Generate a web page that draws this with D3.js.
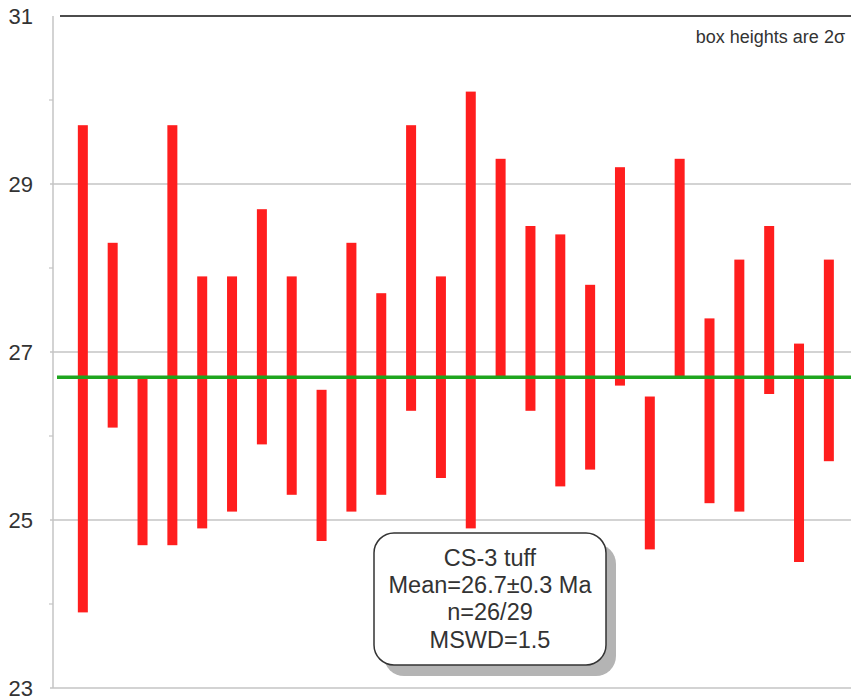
<!DOCTYPE html>
<html>
<head>
<meta charset="utf-8">
<script src="https://cdn.jsdelivr.net/npm/d3@7/dist/d3.min.js"></script>
<style>
  html, body { margin: 0; padding: 0; background: #fff; }
  svg { display: block; font-family: "Liberation Sans", Arial, sans-serif; }
</style>
</head>
<body>
<svg id="chart" width="851" height="700"></svg>
<script>
// ---- data ----
const analyses = d3.range(1, 27);
const upper = [29.7, 28.3, 26.7, 29.7, 27.9, 27.9, 28.7, 27.9, 26.55, 28.3, 27.7, 29.7, 27.9,
               30.1, 29.3, 28.5, 28.4, 27.8, 29.2, 26.47, 29.3, 27.4, 28.1, 28.5, 27.1, 28.1];
const lower = [23.9, 26.1, 24.7, 24.7, 24.9, 25.1, 25.9, 25.3, 24.75, 25.1, 25.3, 26.3, 25.5,
               24.9, 26.7, 26.3, 25.4, 25.6, 26.6, 24.65, 26.7, 25.2, 25.1, 26.5, 24.5, 25.7];
const meanAge = 26.7;
const yTickLabels = [23, 25, 27, 29, 31];
const minorTicks = [24, 26, 28, 30];
const boxLines = ["CS-3 tuff", "Mean=26.7\u00B10.3 Ma", "n=26/29", "MSWD=1.5"];
const noteText = "box heights are 2\u03C3";

// ---- scales ----
const svg = d3.select("#chart");
const W = 851;
const y = d3.scaleLinear().domain([23, 31]).range([688, 16]);
const x = d3.scaleLinear().domain([0, 27]).range([53, 858.7]);
const axisX = 53;

// gridlines
svg.append("g").selectAll("line").data([23, 25, 27, 29]).join("line")
  .attr("x1", axisX - 3).attr("x2", W)
  .attr("y1", d => y(d)).attr("y2", d => y(d))
  .attr("stroke", "#c4c4c4").attr("stroke-width", 1.5);

// minor ticks
svg.append("g").selectAll("line").data(minorTicks).join("line")
  .attr("x1", axisX - 4).attr("x2", axisX)
  .attr("y1", d => y(d)).attr("y2", d => y(d))
  .attr("stroke", "#c4c4c4").attr("stroke-width", 1.2);

// left axis line
svg.append("line")
  .attr("x1", axisX).attr("x2", axisX)
  .attr("y1", y(31)).attr("y2", y(23))
  .attr("stroke", "#c4c4c4").attr("stroke-width", 1.5);

// top black line
svg.append("line")
  .attr("x1", 60).attr("x2", W)
  .attr("y1", y(31)).attr("y2", y(31))
  .attr("stroke", "#111").attr("stroke-width", 1.5);

// y labels
svg.append("g").selectAll("text").data(yTickLabels).join("text")
  .attr("x", 33).attr("y", d => y(d))
  .attr("text-anchor", "end").attr("dominant-baseline", "central")
  .attr("font-size", 22).attr("fill", "#333")
  .text(d => d);

// bars
const bw = 10;
svg.append("g").selectAll("rect").data(analyses).join("rect")
  .attr("x", (d, i) => x(d) - bw / 2)
  .attr("width", bw)
  .attr("y", (d, i) => y(upper[i]))
  .attr("height", (d, i) => y(lower[i]) - y(upper[i]))
  .attr("fill", "#ff1e1e");

// mean line
svg.append("line")
  .attr("x1", 57).attr("x2", W)
  .attr("y1", y(meanAge)).attr("y2", y(meanAge))
  .attr("stroke", "#1ea51e").attr("stroke-width", 3.5);

// note
svg.append("text")
  .attr("x", 845).attr("y", 43)
  .attr("text-anchor", "end")
  .attr("font-size", 18).attr("fill", "#333")
  .text(noteText);

// result box
const bx = 374, by = 533, bwid = 232, bht = 132, r = 20;
svg.append("rect")
  .attr("x", bx + 10).attr("y", by + 11).attr("width", bwid).attr("height", bht)
  .attr("rx", r).attr("fill", "#b4b4b4");
svg.append("rect")
  .attr("x", bx).attr("y", by).attr("width", bwid).attr("height", bht)
  .attr("rx", r).attr("fill", "#fff").attr("stroke", "#333").attr("stroke-width", 1.5);
const baselines = [565.7, 592.7, 620, 648];
svg.append("g").selectAll("text").data(boxLines).join("text")
  .attr("x", bx + bwid / 2).attr("y", (d, i) => baselines[i])
  .attr("text-anchor", "middle")
  .attr("font-size", 23.5).attr("fill", "#333")
  .text(d => d);
</script>
</body>
</html>
